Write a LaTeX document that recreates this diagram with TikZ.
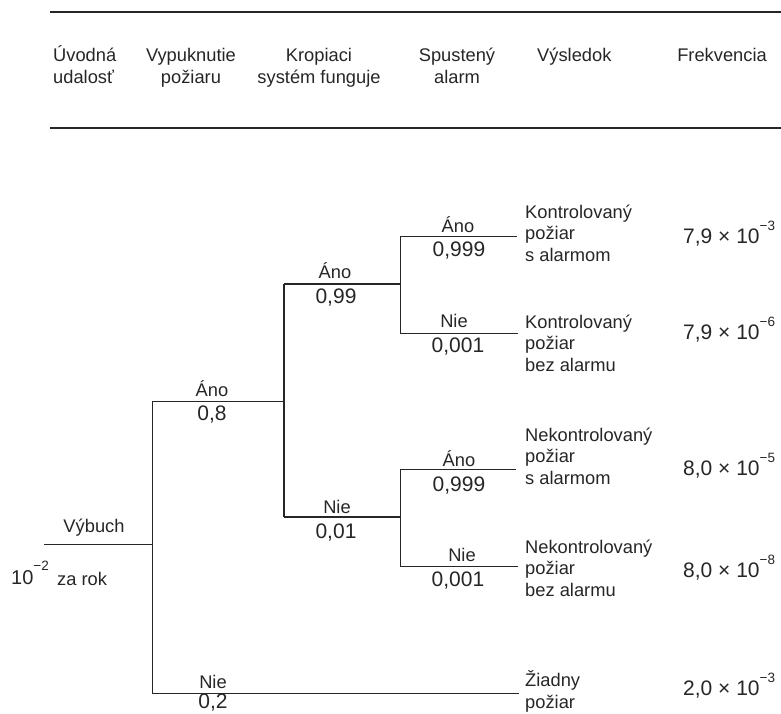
\documentclass[tikz,border=0pt]{standalone}
\usepackage{fontspec}
\setmainfont{Liberation Sans}
\definecolor{ink}{RGB}{38,38,38}
\begin{document}
\begin{tikzpicture}[x=1pt,y=-1pt,
  word/.style={font=\fontsize{18.3}{21.5}\selectfont, text=ink, inner sep=0pt},
  head/.style={font=\fontsize{18.3}{22}\selectfont, text=ink, inner sep=0pt},
  num/.style={font=\fontsize{21}{24}\selectfont, text=ink, inner sep=0pt},
  freq/.style={font=\fontsize{21}{24}\selectfont, text=ink, inner sep=0pt, anchor=base west},
  branch/.style={draw=ink, line width=1pt},
  mainbranch/.style={draw=ink, line width=1.6pt},
  rule/.style={draw=ink, line width=1.3pt}]
\newcommand{\expo}[1]{\raisebox{12.5pt}{\fontsize{13.5}{13.5}\selectfont #1}}
\useasboundingbox (0,0) rectangle (781,713);

% header rules
\coordinate (rt1) at (50,12);  \coordinate (rt2) at (781,12);
\coordinate (rb1) at (50,128); \coordinate (rb2) at (781,128);
\draw[rule] (rt1) -- (rt2);
\draw[rule] (rb1) -- (rb2);

% column headings (multi-line nodes sit on the baseline of their last line)
\node[head, align=left, anchor=base west] (h1) at (53,83) {Úvodná\\udalosť};
\node[head, align=center, anchor=base] (h2) at (191,83) {Vypuknutie\\požiaru};
\node[head, align=center, anchor=base] (h3) at (319,83) {Kropiaci\\systém funguje};
\node[head, align=center, anchor=base] (h4) at (457,83) {Spustený\\alarm};
\node[head, anchor=base west] (h5) at (537,61) {Výsledok};
\node[head, anchor=base] (h6) at (722,61) {Frekvencia};

% initiating event
\coordinate (s0) at (44,544);
\coordinate (j0) at (152,544);
\node[word, anchor=base] (ev) at (94,532) {Výbuch};
\node[font=\fontsize{20}{22}\selectfont, text=ink, inner sep=0pt, anchor=base west] (rate) at (11,584) {10\raisebox{14pt}{\fontsize{13.5}{13.5}\selectfont −2}};
\node[word, anchor=base west] (per) at (57,585) {za rok};

% junction points
\coordinate (a1) at (152,401); \coordinate (a2) at (284,401);
\coordinate (n1) at (152,693); \coordinate (n2) at (519,693);
\coordinate (b1) at (284,284); \coordinate (b2) at (400,284);
\coordinate (c1) at (284,517); \coordinate (c2) at (400,517);
\coordinate (d1) at (400,236); \coordinate (d2) at (517,236);
\coordinate (e1) at (400,333); \coordinate (e2) at (518,333);
\coordinate (f1) at (400,469); \coordinate (f2) at (516,469);
\coordinate (g1) at (400,566); \coordinate (g2) at (518,566);

% tree branches
\draw[branch] (s0) -- (j0);
\draw[branch] (a1) -- (n1);
\draw[branch] (a1) -- (a2);
\draw[branch] (n1) -- (n2);
\draw[mainbranch] (b1) -- (c1);
\draw[mainbranch] (b1) -- (b2);
\draw[mainbranch] (c1) -- (c2);
\draw[branch] (d1) -- (e1);
\draw[branch] (d1) -- (d2);
\draw[branch] (e1) -- (e2);
\draw[branch] (f1) -- (g1);
\draw[branch] (f1) -- (f2);
\draw[branch] (g1) -- (g2);

% branch labels
\node[word, anchor=base] (la1) at (212,396) {Áno};
\node[num, anchor=base] (pa1) at (212,420) {0,8};
\node[word, anchor=base] (ln1) at (213,688) {Nie};
\node[num, anchor=base] (pn1) at (213,708) {0,2};
\node[word, anchor=base] (lb) at (335,278) {Áno};
\node[num, anchor=base] (pb) at (336,303) {0,99};
\node[word, anchor=base] (lc) at (337,513) {Nie};
\node[num, anchor=base] (pc) at (336,538) {0,01};
\node[word, anchor=base] (ld) at (458,232) {Áno};
\node[num, anchor=base] (pd) at (459,256) {0,999};
\node[word, anchor=base] (le) at (454,327) {Nie};
\node[num, anchor=base] (pe) at (458,352) {0,001};
\node[word, anchor=base] (lf) at (459,466) {Áno};
\node[num, anchor=base] (pf) at (459,491) {0,999};
\node[word, anchor=base] (lg) at (462,561) {Nie};
\node[num, anchor=base] (pg) at (458,586) {0,001};

% outcomes
\node[word, align=left, anchor=base west] (o1) at (525,261) {Kontrolovaný\\požiar\\s alarmom};
\node[word, align=left, anchor=base west] (o2) at (525,371) {Kontrolovaný\\požiar\\bez alarmu};
\node[word, align=left, anchor=base west] (o3) at (525,484) {Nekontrolovaný\\požiar\\s alarmom};
\node[word, align=left, anchor=base west] (o4) at (525,596) {Nekontrolovaný\\požiar\\bez alarmu};
\node[word, align=left, anchor=base west] (o5) at (525,708) {Žiadny\\požiar};

% frequencies
\node[freq] (f1v) at (683,243) {7,9 × 10\expo{−3}};
\node[freq] (f2v) at (683,339) {7,9 × 10\expo{−6}};
\node[freq] (f3v) at (683,475) {8,0 × 10\expo{−5}};
\node[freq] (f4v) at (683,577) {8,0 × 10\expo{−8}};
\node[freq] (f5v) at (683,695) {2,0 × 10\expo{−3}};
\end{tikzpicture}
\end{document}
